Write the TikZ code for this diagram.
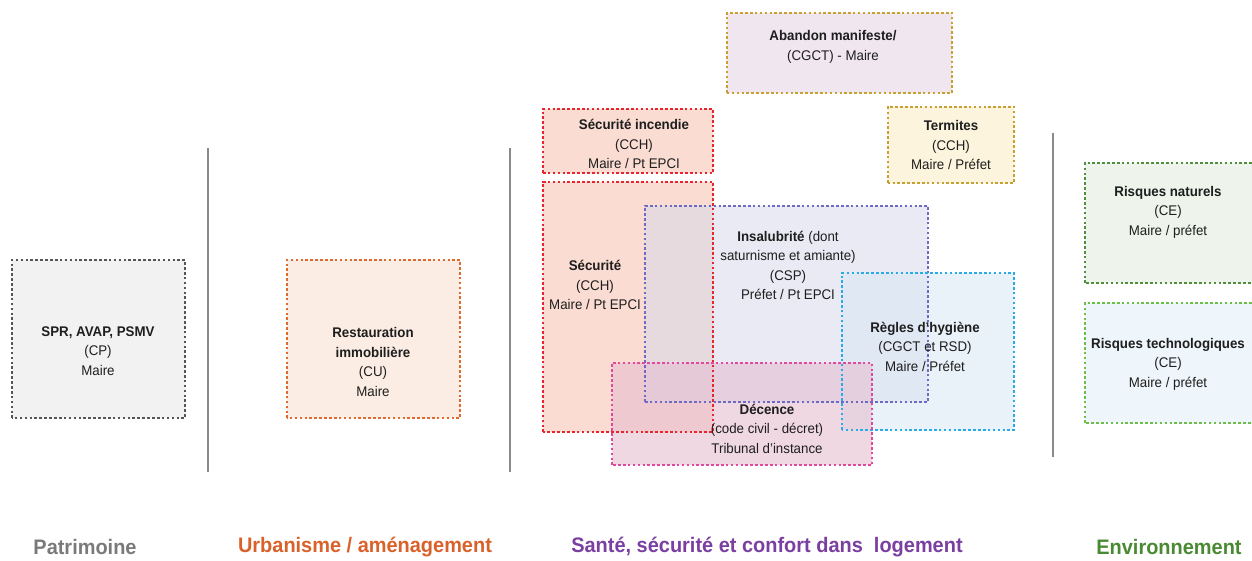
\documentclass[tikz,border=0pt]{standalone}
\usepackage{fontspec}
\setmainfont{Liberation Sans}[FakeStretch=0.95]
\definecolor{txtc}{HTML}{1E1E1E}
\definecolor{sprB}{HTML}{555555}\definecolor{sprF}{HTML}{F2F2F2}
\definecolor{resB}{HTML}{E0692E}\definecolor{resF}{HTML}{FCEDE4}
\definecolor{golB}{HTML}{C9A030}
\definecolor{abaF}{HTML}{EFE6F0}\definecolor{terF}{HTML}{FCF4DD}
\definecolor{secB}{HTML}{E8252C}\definecolor{secF}{HTML}{FADCD2}
\definecolor{insB}{HTML}{6B6BC5}\definecolor{insF}{HTML}{D7D9EB}
\definecolor{regB}{HTML}{2AAAE6}\definecolor{regF}{HTML}{DAE8F5}
\definecolor{decB}{HTML}{DF4A9E}\definecolor{decF}{HTML}{E6BED0}
\definecolor{rnB}{HTML}{4F8F3B}\definecolor{rnF}{HTML}{EEF4EC}
\definecolor{rtB}{HTML}{6CC04A}\definecolor{rtF}{HTML}{EEF6FB}
\definecolor{sepc}{HTML}{8A8A8A}
\definecolor{patC}{HTML}{7A7A7A}\definecolor{urbC}{HTML}{D9622B}
\definecolor{sanC}{HTML}{7A3FA0}\definecolor{envC}{HTML}{4A8A33}
\tikzset{
  box/.style={rectangle, inner sep=0pt, outer sep=0pt},
  dotb/.style={line width=2.9pt, dash pattern=on 2.6pt off 2.3pt},
  txt/.style={align=center, text=txtc, font=\fontsize{14}{19.5}\selectfont, inner sep=0pt},
  lbl/.style={font=\fontsize{21}{24}\selectfont\bfseries, inner sep=0pt},
  sepline/.style={draw=sepc, line width=1.4pt}
}
\begin{document}
\begin{tikzpicture}[x=1pt,y=-1pt]
\useasboundingbox (0,0) rectangle (1252,561);
\clip (0,0) rectangle (1252,561);
% fills
\node[box, fill=sprF, minimum width=173pt, minimum height=158pt] (spr) at (98.5,339) {};
\node[box, fill=resF, minimum width=173pt, minimum height=158pt] (rest) at (373.5,339) {};
\node[box, fill=abaF, minimum width=225pt, minimum height=80pt] (aband) at (839.5,53) {};
\node[box, fill=secF, minimum width=170pt, minimum height=64pt] (secinc) at (628,141) {};
\node[box, fill=secF, minimum width=170pt, minimum height=250pt] (sec) at (628,307) {};
\node[box, fill=terF, minimum width=126pt, minimum height=76pt] (term) at (951,145) {};
\node[box, fill=insF, fill opacity=0.55, minimum width=283pt, minimum height=196pt] (insal) at (786.5,304) {};
\node[box, fill=regF, fill opacity=0.6, minimum width=172pt, minimum height=157pt] (regles) at (928,351.5) {};
\node[box, fill=decF, fill opacity=0.6, minimum width=260pt, minimum height=102pt] (dec) at (742,414) {};
\node[box, fill=rnF, minimum width=171pt, minimum height=120pt] (rn) at (1170.5,223) {};
\node[box, fill=rtF, minimum width=171pt, minimum height=120pt] (rt) at (1170.5,363) {};
% borders
\draw[dotb, draw=sprB] (spr.south west) rectangle (spr.north east);
\draw[dotb, draw=resB] (rest.south west) rectangle (rest.north east);
\draw[dotb, draw=golB] (aband.south west) rectangle (aband.north east);
\draw[dotb, draw=golB] (term.south west) rectangle (term.north east);
\draw[dotb, draw=secB] (secinc.south west) rectangle (secinc.north east);
\draw[dotb, draw=secB] (sec.south west) rectangle (sec.north east);
\draw[dotb, draw=insB] (insal.south west) rectangle (insal.north east);
\draw[dotb, draw=regB] (regles.south west) rectangle (regles.north east);
\draw[dotb, draw=decB] (dec.south west) rectangle (dec.north east);
\draw[dotb, draw=rnB] (rn.south west) rectangle (rn.north east);
\draw[dotb, draw=rtB] (rt.south west) rectangle (rt.north east);
% separators
\coordinate (s1t) at (208,148); \coordinate (s1b) at (208,472);
\coordinate (s2t) at (510,148); \coordinate (s2b) at (510,472);
\coordinate (s3t) at (1053,133); \coordinate (s3b) at (1053,457);
\draw[sepline] (s1t) -- (s1b);
\draw[sepline] (s2t) -- (s2b);
\draw[sepline] (s3t) -- (s3b);
% texts
\node[txt] (tspr) at (98,351) {\textbf{SPR, AVAP, PSMV}\\(CP)\\Maire};
\node[txt] (trest) at (373,362) {\textbf{Restauration}\\\textbf{immobilière}\\(CU)\\Maire};
\node[txt] (taband) at (833,47) {\textbf{Abandon manifeste/}\\(CGCT) - Maire};
\node[txt] (tsecinc) at (634,144) {\textbf{Sécurité incendie}\\(CCH)\\Maire / Pt EPCI};
\node[txt] (tsec) at (595,285) {\textbf{Sécurité}\\(CCH)\\Maire / Pt EPCI};
\node[txt] (tterm) at (951,145) {\textbf{Termites}\\(CCH)\\Maire / Préfet};
\node[txt] (tinsal) at (788,265.5) {\textbf{Insalubrité} (dont\\saturnisme et amiante)\\(CSP)\\Préfet / Pt EPCI};
\node[txt] (tregles) at (925,346.5) {\textbf{Règles d'hygiène}\\(CGCT et RSD)\\Maire / Préfet};
\node[txt] (tdec) at (767,428.5) {\textbf{Décence}\\(code civil - décret)\\Tribunal d'instance};
\node[txt] (trn) at (1168,212) {\textbf{Risques naturels}\\(CE)\\Maire / préfet};
\node[txt] (trt) at (1168,364) {\textbf{Risques technologiques}\\(CE)\\Maire / préfet};
% bottom labels
\node[lbl, text=patC] (lpat) at (85,547) {Patrimoine};
\node[lbl, text=urbC] (lurb) at (365,547) {Urbanisme / aménagement};
\node[lbl, text=sanC] (lsan) at (767,547) {Santé, sécurité et confort dans\ \ logement};
\node[lbl, text=envC] (lenv) at (1169,547) {Environnement};
\end{tikzpicture}
\end{document}
